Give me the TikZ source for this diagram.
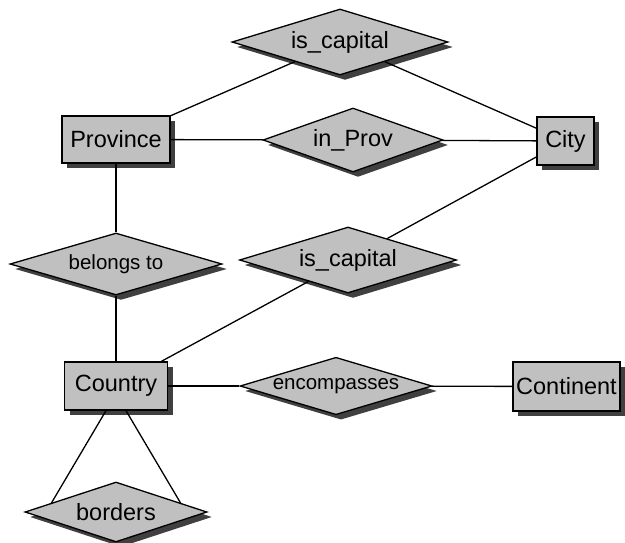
\documentclass[tikz,border=0pt]{standalone}
\usepackage{fontspec}
\setmainfont{Liberation Sans}
\usetikzlibrary{positioning,shapes.geometric,shadows}
\definecolor{boxgrey}{RGB}{192,192,192}
\definecolor{shadowgrey}{RGB}{64,64,64}
\tikzset{
  entity/.style={
    draw,
    fill=boxgrey,
    line width=1.3pt,
    inner sep=0pt,
    font=\fontsize{23.5}{27}\selectfont,
    drop shadow={shadow xshift=5pt, shadow yshift=-5pt, fill=shadowgrey, opacity=1}
  },
  relation/.style={
    entity,
    diamond,
    aspect=3
  },
  smallrel/.style={
    relation,
    font=\fontsize{20.5}{24}\selectfont
  },
  link/.style={line width=1.3pt}
}

\begin{document}
\begin{tikzpicture}[x=1pt, y=1pt]
\useasboundingbox (0,0) rectangle (625,-542);

% Entities
\node[entity, minimum width=108pt, minimum height=47pt] (province) at (116,-139.5) {Province};
\node[entity, minimum width=57pt, minimum height=48pt] (city) at (565.5,-141) {City};
\node[entity, minimum width=103pt, minimum height=48pt] (country) at (116,-386) {Country};
\node[entity, minimum width=107pt, minimum height=49pt] (continent) at (566.5,-386.5) {Continent};

% Relationships
\node[relation, minimum width=216pt, minimum height=66pt] (capprov) at (340,-42) {is\_capital};
\node[relation, minimum width=180pt, minimum height=64pt] (inprov) at (353,-140) {in\_Prov};
\node[smallrel, minimum width=212pt, minimum height=62pt] (belongs) at (116,-264) {belongs to};
\node[relation, minimum width=217pt, minimum height=66pt] (capcountry) at (348,-260) {is\_capital};
\node[smallrel, minimum width=192pt, minimum height=54pt] (encompasses) at (336,-386) {encompasses};
\node[relation, minimum width=182pt, minimum height=60pt] (borders) at (116,-512) {borders};

% Connectors
\draw[link] (province) -- (capprov);
\draw[link] (capprov) -- (city);
\draw[link] (province) -- (inprov);
\draw[link] (inprov) -- (city);
\draw[link] (province) -- (belongs);
\draw[link] (belongs) -- (country);
\draw[link] (capcountry) -- (city);
\draw[link] (capcountry) -- (country);
\draw[link] (country) -- (encompasses);
\draw[link] (encompasses) -- (continent);
\draw[link] ([xshift=-10pt]country.south) -- (borders.172);
\draw[link] ([xshift=10pt]country.south) -- (borders.8);

\end{tikzpicture}
\end{document}
